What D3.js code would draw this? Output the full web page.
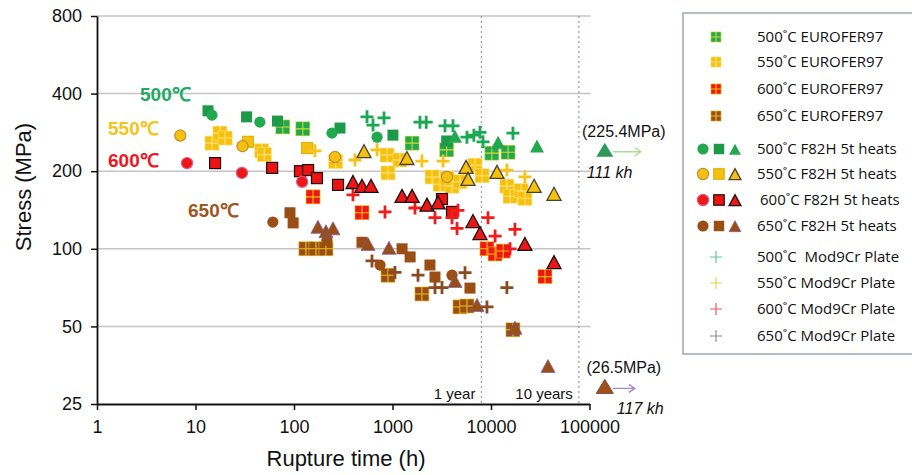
<!DOCTYPE html>
<html>
<head>
<meta charset="utf-8">
<script src="https://cdn.jsdelivr.net/npm/d3@7"></script>
<style>
body { margin: 0; background: #fff; }
text { font-family: "Liberation Sans", Arial, sans-serif; }
</style>
</head>
<body>
<svg id="chart" width="912" height="475"></svg>
<script>
// [rupture time (h), stress (MPa)]
const eurofer500 = [[77,297],[123,292],[1580,257],[3550,242],[10200,235],[14900,237]];
const square500 = [[13.4,343],[33,325],[68,313],[293,294],[1010,276],[3550,262]];
const circle500 = [[14.7,330],[45,310],[243,281],[697,271]];
const triangle500 = [[4310,271],[11800,257],[29300,248]];
const mod9cr500 = [[551,325],[634,302],[820,322],[1900,310],[2200,310],[3410,300],[4110,300],[5700,271],[6700,276],[7730,283],[8300,260],[16700,281]];

const eurofer550 = [[14.7,257],[17.7,281],[20,269],[47,240],[50,232],[265,218],[880,231],[1190,221],[900,197],[2520,190],[3040,178],[3580,188],[4020,175],[4840,182],[6880,211],[8110,192],[14500,175],[15600,160],[20200,168],[22100,157]];
const square550 = [[34,260],[136,246]];
const circle550 = [[7,275],[30,250],[261,227],[3580,190]];
const triangle550 = [[514,237],[1400,223],[5580,206],[5840,185],[11500,197],[27400,174],[43600,162]];
const mod9cr550 = [[163,240],[416,221],[697,242],[1990,219],[3260,219],[14500,202],[22100,190]];

const eurofer600 = [[156,159],[490,138],[9100,100],[11000,95.5],[13300,98],[35300,78]];
const square600 = [[15.8,215],[60,206],[115,200],[139,202],[171,188],[280,177],[3180,156],[4020,139]];
const circle600 = [[8.2,215],[29.6,197],[121,182]];
const triangle600 = [[397,180],[490,174],[605,174],[1250,159],[1580,159],[2240,147],[2900,150],[6560,127],[7730,114],[22100,103.5],[43600,88]];
const mod9cr600 = [[397,162],[839,139],[1690,144],[2700,132],[4020,132],[4620,141],[4520,120],[9330,132],[11000,112],[17500,119],[15600,100]];

const eurofer650 = [[132,100],[167,100],[211,100],[900,79],[1990,66.8],[4840,59.5],[5700,60],[16700,48.5]];
const square650 = [[91,138],[98,126],[490,106],[1250,100],[1510,93],[2400,86.5],[2700,77.7],[6120,70.4]];
const circle650 = [[61,127],[216,108],[747,86.5],[4020,79]];
const triangle650 = [[175,120.6],[211,116],[249,119],[564,103.5],[921,100],[4310,74.4],[7210,60],[17500,49],[37900,34.8]];
const mod9cr650 = [[619,89.7],[1060,81],[1815,79],[2700,70.7],[3180,70.7],[5450,80.8],[9100,59.5],[14500,70.7]];

// off-scale specimens drawn past the axis end
const outlierTemps = ["500", "650"];
const outlierPoints = [[143000,240],[143000,29]];
const outlierStress = ["(225.4MPa)", "(26.5MPa)"];
const outlierLife = ["111 kh", "117 kh"];

const temps = ["500", "550", "600", "650"];
const xTicks = [1, 10, 100, 1000, 10000, 100000];
const yTicks = [25, 50, 100, 200, 400, 800];
const timeMarks = [8000, 78000];
const timeMarkLabels = ["1 year", "10 years"];

const color = {"500": "#22a84e", "550": "#f6c10e", "600": "#ee1616", "650": "#9a4e14"};
const squareColor = {"500": "#1c9a48", "550": "#f6c10e", "600": "#ee1212", "650": "#9a4e14"};
const gridLine = {"500": "#d8d830", "550": "#ffe27a", "600": "#f5c400", "650": "#e8c020"};
const triStroke = {"500": "none", "550": "#4a4030", "600": "#1a1010", "650": "#7a58a8"};
const circleStroke = {"500": "none", "550": "#c09030", "600": "#e05a88", "650": "none"};
const plusColor = {"500": "#1aa852", "550": "#f6c418", "600": "#f01c1c", "650": "#8c4a22"};
const legendPlus = {"500": "#5cc89a", "550": "#f2d24e", "600": "#f05868", "650": "#a08898"};

const svg = d3.select("#chart");
const x = d3.scaleLog().domain([1, 100000]).range([97, 589.5]);
const y = d3.scaleLog().base(2).domain([25, 800]).range([404, 16]);

// grid
svg.append("g").selectAll("line").data(yTicks.slice(1)).enter().append("line")
  .attr("x1", x(1)).attr("x2", x(100000) + 1)
  .attr("y1", d => y(d)).attr("y2", d => y(d))
  .attr("stroke", "#c4c4c4").attr("stroke-width", 1.5);

svg.append("g").selectAll("line").data(timeMarks).enter().append("line")
  .attr("x1", d => x(d)).attr("x2", d => x(d))
  .attr("y1", y(800)).attr("y2", y(25))
  .attr("stroke", "#8c9ab4").attr("stroke-width", 1.2).attr("stroke-dasharray", "2,3");

svg.append("g").selectAll("text").data(timeMarks).enter().append("text")
  .attr("x", d => x(d) - 6).attr("y", 399)
  .attr("text-anchor", "end").style("font-size", "15px").attr("fill", "#111")
  .text((d, i) => timeMarkLabels[i]);

// axes
const xAxis = svg.append("g").attr("transform", "translate(0,404)")
  .call(d3.axisBottom(x).tickValues(xTicks).tickFormat(d3.format("d")).tickSize(6).tickSizeOuter(0).tickPadding(10));
const yAxis = svg.append("g").attr("transform", "translate(97,0)")
  .call(d3.axisLeft(y).tickValues(yTicks).tickFormat(d3.format("d")).tickSize(6).tickSizeOuter(0).tickPadding(9));
[xAxis, yAxis].forEach(a => {
  a.selectAll("text").style("font-size", "18px").style("font-family", "'Liberation Sans', Arial, sans-serif").attr("fill", "#111");
  a.selectAll("line").attr("stroke", "#111").attr("stroke-width", 1.5);
  a.select(".domain").attr("stroke", "#111").attr("stroke-width", 1.8);
});

svg.append("text").attr("x", 346).attr("y", 466).attr("text-anchor", "middle")
  .style("font-size", "22px").attr("fill", "#111").text("Rupture time (h)");
svg.append("text").attr("transform", "translate(31,187) rotate(-90)").attr("text-anchor", "middle")
  .style("font-size", "22px").attr("fill", "#111").text("Stress (MPa)");

// marker shapes
function drawMarker(g, kind, temp, scale) {
  const k = scale || 1;
  if (kind === "eurofer") {
    g.append("rect").attr("x", -7 * k).attr("y", -7 * k).attr("width", 14 * k).attr("height", 14 * k)
      .attr("fill", color[temp]).attr("stroke", gridLine[temp]).attr("stroke-width", 0.6);
    g.append("path").attr("d", `M${-7*k},0H${7*k}M0,${-7*k}V${7*k}`)
      .attr("stroke", gridLine[temp]).attr("stroke-width", 1.1);
  } else if (kind === "square") {
    g.append("rect").attr("x", -5.5 * k).attr("y", -5.5 * k).attr("width", 11 * k).attr("height", 11 * k)
      .attr("fill", squareColor[temp])
      .attr("stroke", temp === "600" ? "#1a1010" : (temp === "550" ? "#e0b010" : "none")).attr("stroke-width", 1.2);
  } else if (kind === "circle") {
    g.append("circle").attr("r", 5.6 * k).attr("fill", color[temp])
      .attr("stroke", circleStroke[temp]).attr("stroke-width", 1.2);
  } else if (kind === "triangle") {
    g.append("path").attr("d", `M0,${-7.5*k}L${7*k},${5.5*k}L${-7*k},${5.5*k}Z`)
      .attr("fill", color[temp]).attr("stroke", triStroke[temp])
      .attr("stroke-width", temp === "650" ? 0.7 : 1.3);
  } else if (kind === "plus") {
    g.append("path").attr("d", `M${-6.5*k},0H${6.5*k}M0,${-6.5*k}V${6.5*k}`)
      .attr("stroke", plusColor[temp]).attr("stroke-width", 2.8).attr("fill", "none");
  }
}

const series = [
  [eurofer500, "eurofer", "500"], [eurofer550, "eurofer", "550"], [eurofer600, "eurofer", "600"], [eurofer650, "eurofer", "650"],
  [square500, "square", "500"], [square550, "square", "550"], [square600, "square", "600"], [square650, "square", "650"],
  [circle500, "circle", "500"], [circle550, "circle", "550"], [circle600, "circle", "600"], [circle650, "circle", "650"],
  [mod9cr500, "plus", "500"], [mod9cr550, "plus", "550"], [mod9cr600, "plus", "600"], [mod9cr650, "plus", "650"],
  [triangle500, "triangle", "500"], [triangle550, "triangle", "550"], [triangle600, "triangle", "600"], [triangle650, "triangle", "650"]
];

const plot = svg.append("g");
series.forEach(([data, kind, temp]) => {
  plot.append("g").selectAll("g").data(data).enter().append("g")
    .attr("transform", d => `translate(${x(d[0])},${y(d[1])})`)
    .each(function () { drawMarker(d3.select(this), kind, temp); });
});

// off-scale points with arrows
const arrowColor = {"500": "#a8dc98", "650": "#a08ad0"};
outlierPoints.forEach((d, i) => {
  const temp = outlierTemps[i];
  const px = x(d[0]), py = y(d[1]);
  const g = svg.append("g").attr("transform", `translate(${px},${py})`);
  g.append("path").attr("d", "M0,-8L8.5,6L-8.5,6Z")
    .attr("fill", temp === "500" ? "#2e9a58" : "#a0501c")
    .attr("stroke", temp === "500" ? "none" : "#7a4a30");
  const len = temp === "500" ? 28 : 22;
  g.append("path").attr("d", `M8,1H${8+len}M${2+len},-3L${8+len},1L${2+len},5`)
    .attr("fill", "none").attr("stroke", arrowColor[temp]).attr("stroke-width", 1.4);
  svg.append("text").attr("x", px + 19).attr("y", py - 14).attr("text-anchor", "middle")
    .style("font-size", "16px").attr("fill", "#111").text(outlierStress[i]);
  svg.append("text").attr("x", temp === "500" ? px - 18 : px + 12).attr("y", py + 27)
    .style("font-size", "16px").style("font-style", "italic").attr("fill", "#111").text(outlierLife[i]);
});

// temperature labels
const tempLabelPos = [[140, 101], [108, 135], [108, 167], [188, 217]];
const tempLabelColor = {"500": "#1eaa62", "550": "#f6c31a", "600": "#ee1622", "650": "#a0561c"};
svg.append("g").selectAll("text").data(temps).enter().append("text")
  .attr("x", (d, i) => tempLabelPos[i][0]).attr("y", (d, i) => tempLabelPos[i][1])
  .style("font-size", "19px").style("font-weight", "bold").attr("fill", d => tempLabelColor[d])
  .text(d => d + "\u2103");

// legend
const legend = svg.append("g");
legend.append("rect").attr("x", 683).attr("y", 13).attr("width", 240).attr("height", 341)
  .attr("fill", "#fff").attr("stroke", "#a4acba").attr("stroke-width", 1.6);

const legendFont = "'Open Sans', 'Noto Sans', sans-serif";
const euroRows = [37, 62, 89, 116];
const f82Rows = [149, 174, 200, 226];
const modRows = [257, 283, 309, 336];

temps.forEach((t, i) => {
  drawMarker(legend.append("g").attr("transform", `translate(716,${euroRows[i]})`), "eurofer", t, 0.72);
  legend.append("text").attr("x", 757).attr("y", euroRows[i] + 5).style("font-family", legendFont)
    .style("font-size", "15px").attr("fill", "#111").text(t + "\u02DAC EUROFER97");

  drawMarker(legend.append("g").attr("transform", `translate(703,${f82Rows[i]})`), "circle", t, 1.0);
  drawMarker(legend.append("g").attr("transform", `translate(719,${f82Rows[i]})`), "square", t, 0.95);
  drawMarker(legend.append("g").attr("transform", `translate(735,${f82Rows[i] + 1})`), "triangle", t, 0.85);
  legend.append("text").attr("x", i === 2 ? 760 : 757).attr("y", f82Rows[i] + 5).style("font-family", legendFont)
    .style("font-size", "15px").attr("fill", "#111").text(t + "\u02DAC F82H 5t heats");

  legend.append("path").attr("transform", `translate(716,${modRows[i]})`)
    .attr("d", "M-6,0H6M0,-6V6").attr("stroke", legendPlus[t]).attr("stroke-width", 1.2);
  legend.append("text").attr("x", 757).attr("y", modRows[i] + 5).style("font-family", legendFont)
    .style("font-size", "15px").attr("fill", "#111")
    .text(t + (i === 0 ? "\u02DAC  Mod9Cr Plate" : "\u02DAC Mod9Cr Plate"))
    .attr("xml:space", "preserve").style("white-space", "pre");
});
</script>
</body>
</html>
